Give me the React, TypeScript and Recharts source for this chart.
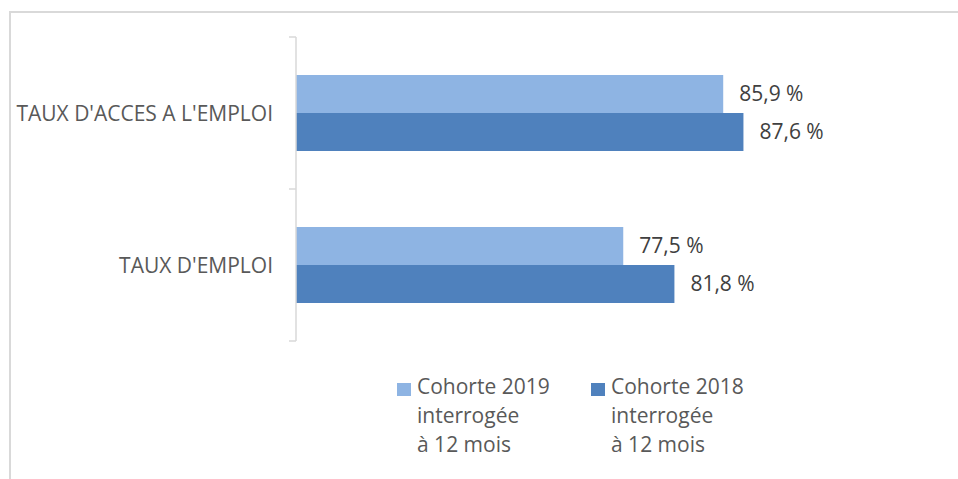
import React from "react";
import { BarChart, Bar, XAxis, YAxis, Legend, LabelList } from "recharts";

const categories = ["TAUX D'ACCES A L'EMPLOI", "TAUX D'EMPLOI"];
const cohort2019 = [85.9, 77.5];
const cohort2018 = [87.6, 81.8];
const seriesNames = ["Cohorte 2019\ninterrogée\nà 12 mois", "Cohorte 2018\ninterrogée\nà 12 mois"];
const xDomain: [number, number] = [50, 100];

const data = categories.map((name, i) => ({ name, c2019: cohort2019[i], c2018: cohort2018[i] }));

const FONT = "'Open Sans', sans-serif";
const LIGHT = "#8EB4E3";
const DARK = "#4F81BD";
const AXIS = "#D9D9D9";

const fmt = (v: any) => `${Number(v).toFixed(1).replace(".", ",")} %`;

const CategoryTick = (props: any) => {
  const { x, y, payload, height, visibleTicksCount, index } = props;
  const band = height / visibleTicksCount;
  const lx1 = x + 16;
  const lx2 = x + 23;
  return (
    <g>
      <text x={x} y={y} textAnchor="end" dominantBaseline="central" fontFamily={FONT} fontSize={21} fill="#595959">
        {payload.value}
      </text>
      <line x1={lx1} x2={lx2} y1={y - band / 2} y2={y - band / 2} stroke={AXIS} strokeWidth={1.5} />
      {index === visibleTicksCount - 1 && (
        <line x1={lx1} x2={lx2} y1={y + band / 2} y2={y + band / 2} stroke={AXIS} strokeWidth={1.5} />
      )}
    </g>
  );
};

const renderLegend = (props: any) => {
  const items = [...(props.payload || [])].sort(
    (a: any, b: any) => seriesNames.indexOf(a.value) - seriesNames.indexOf(b.value)
  );
  return (
    <div style={{ display: "flex" }}>
      {items.map((e: any) => (
        <div key={e.value} style={{ display: "flex", alignItems: "flex-start", width: 194 }}>
          <span style={{ width: 14, height: 13, background: e.color, marginTop: 11, marginRight: 6, flexShrink: 0 }} />
          <span style={{ whiteSpace: "pre-line", fontFamily: FONT, fontSize: 21, lineHeight: "29px", color: "#595959" }}>
            {e.value}
          </span>
        </div>
      ))}
    </div>
  );
};

export default function App() {
  return (
    <div style={{ width: 958, height: 479, padding: 8, boxSizing: "border-box", position: "relative", background: "#fff" }}>
      <style>{`body{margin:0;}`}</style>
      <div style={{ position: "relative", width: 942, height: 463, fontFamily: FONT }}>
        <BarChart
          width={942}
          height={463}
          data={data}
          layout="vertical"
          margin={{ top: 29, right: 59, bottom: 130, left: 0 }}
          barCategoryGap="25%"
          barGap={0}
        >
          <XAxis type="number" domain={xDomain} hide allowDataOverflow />
          <YAxis
            type="category"
            dataKey="name"
            width={288}
            axisLine={{ stroke: AXIS, strokeWidth: 1.5 }}
            tickLine={false}
            tickSize={0}
            tickMargin={23}
            tick={<CategoryTick />}
            interval={0}
          />
          <Legend
            layout="horizontal"
            verticalAlign="middle"
            align="center"
            content={renderLegend}
            wrapperStyle={{ left: 389, top: 364, width: 420 }}
          />
          <Bar dataKey="c2019" name={seriesNames[0]} fill={LIGHT} isAnimationActive={false}>
            <LabelList dataKey="c2019" position="right" offset={16} formatter={fmt} fontFamily={FONT} fontSize={21} fill="#404040" />
          </Bar>
          <Bar dataKey="c2018" name={seriesNames[1]} fill={DARK} isAnimationActive={false}>
            <LabelList dataKey="c2018" position="right" offset={16} formatter={fmt} fontFamily={FONT} fontSize={21} fill="#404040" />
          </Bar>
        </BarChart>
      </div>
      <div
        style={{
          position: "absolute",
          left: 9,
          top: 11,
          width: 949,
          height: 468,
          boxSizing: "border-box",
          borderTop: `2px solid ${AXIS}`,
          borderLeft: `2px solid ${AXIS}`,
          pointerEvents: "none",
        }}
      />
    </div>
  );
}
